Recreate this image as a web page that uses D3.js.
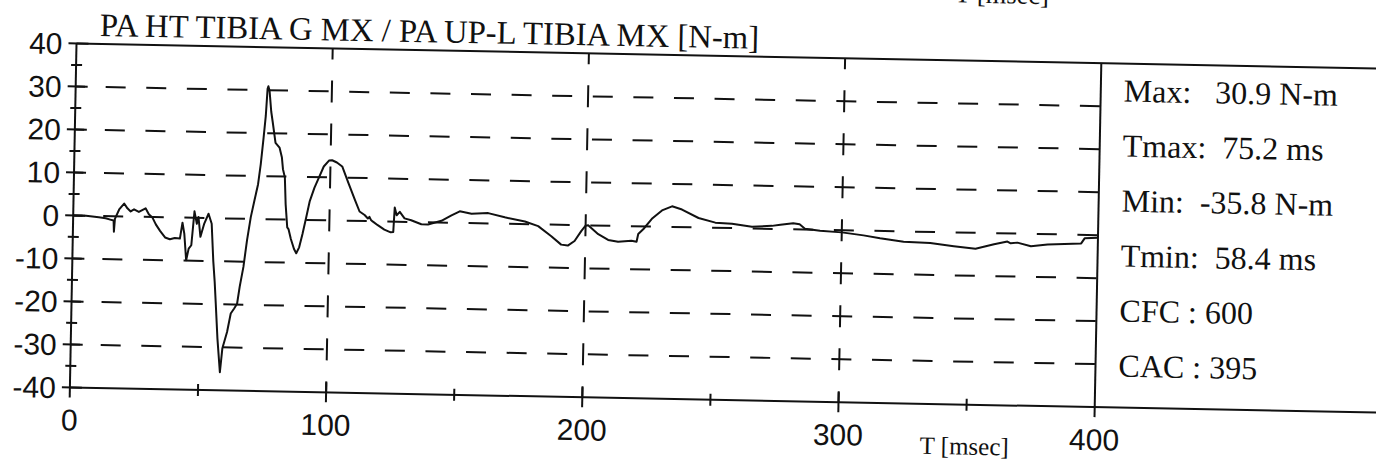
<!DOCTYPE html>
<html>
<head>
<meta charset="utf-8">
<script src="https://cdn.jsdelivr.net/npm/d3@7"></script>
<style>
  html, body { margin: 0; padding: 0; background: #fff; }
  svg { display: block; }
  .serif { font-family: "Liberation Serif", "Times New Roman", serif; }
  .sans { font-family: "Liberation Sans", Arial, Helvetica, sans-serif; }
</style>
</head>
<body>
<svg id="chart" width="1376" height="464"></svg>
<script>
// Tibia moment trace, time in ms and moment in N-m
const timeMs = [
  0, 5, 10, 12.7, 14.5, 15.8, 16.0, 16.3, 17.9, 19.8, 21.1, 22.4, 23.7, 25.6, 28.2, 29.5,
  31.0, 32.3, 34.0, 36.0, 37.9, 39.8, 41.8, 42.7, 43.5, 44.4, 45.3, 46.3, 47.3, 48.3, 48.9,
  49.8, 51.2, 52.8, 54.1, 55.0, 55.7, 56.3, 57.2, 58.4, 59.2, 60.9, 62.2, 63.5, 64.6, 65.5,
  66.8, 68.0, 69.3, 70.6, 71.9, 72.8, 73.7, 74.4, 74.9, 75.2, 75.7, 76.5, 77.1, 78.4, 80.0,
  81.0, 81.5, 82.3, 82.8, 83.6, 84.1, 85.1, 86.4, 87.3, 88.4, 89.6, 90.9, 92.2, 93.9, 95.5,
  97.4, 99.4, 100.6, 102.5, 104.6, 107.2, 109.8, 111.7, 113.7, 115.0, 115.6, 116.2, 117.0,
  118.9, 121.5, 124.0, 125.0, 125.4, 126.2, 127.4, 129.3, 131.9, 135.9, 138.5, 143.7, 147.6,
  150.8, 155.4, 161.9, 168.4, 176.3, 181.5, 186.7, 190.6, 193.2, 195.8, 198.4, 200.0, 201.0,
  205.0, 208.9, 212.8, 218.0, 220.0, 220.6, 222.6, 225.8, 229.7, 233.6, 237.5, 244.0, 250.6,
  257.1, 264.9, 272.7, 276.0, 281.0, 283.5, 285.6, 291.5, 300.0, 308.5, 315.0, 324.2, 334.6,
  343.8, 352.3, 359.5, 364.7, 366.0, 368.6, 373.9, 380.4, 387.0, 393.5, 394.8, 400.0
];
const momentNm = [
  0, 0, -0.3, -0.5, -0.8, -1.0, -3.6, -0.6, 1.6, 3.0, 1.9, 1.2, 1.7, 1.1, 2.0, 0.6,
  -0.2, -1.7, -3.2, -4.7, -5.1, -4.8, -4.9, -1.2, -3.8, -9.9, -7.2, -6.4, 1.5, -1.4, 0.2,
  -4.4, -1.3, 1.0, -1.3, -10.0, -14.8, -20.0, -28.0, -35.8, -30.2, -26.4, -22.1, -20.9, -19.8, -15.8,
  -11.2, -5.0, 0.4, 4.3, 8.1, 12.8, 18.9, 24.0, 30.3, 30.9, 29.8, 25.0, 22.8, 17.8, 16.7,
  14.4, 11.7, 9.8, 3.6, -1.8, -2.2, -4.5, -6.8, -7.8, -6.4, -3.3, 0.5, 4.4, 7.5, 9.8,
  12.5, 13.9, 14.0, 13.5, 12.6, 8.7, 4.9, 2.2, 1.4, 0.6, 1.0, 0.3, -0.1,
  -0.9, -1.9, -2.5, -2.4, 3.3, 1.5, 2.3, 0.8, 0.4, -0.5, -0.5, 0.4, 1.7,
  2.7, 2.2, 2.4, 1.5, 0.6, -0.4, -2.7, -4.6, -4.8, -3.7, -1.3, -0.1, 0,
  -2.0, -3.3, -3.7, -3.4, -3.6, -1.8, -0.6, 1.8, 3.8, 4.8, 4.1, 2.2, 1.2,
  1.0, 0.4, 0.7, 1.0, 1.4, 1.2, 0.2, -0.2, -0.5, -1.1, -1.7, -2.4, -2.6,
  -3.2, -3.7, -2.6, -1.9, -2.3, -2.1, -2.9, -2.4, -2.2, -2.0, -0.8, -0.6
];

const xTicks = [0, 100, 200, 300, 400];
const xMinorTicks = [50, 150, 250, 350];
const yTicks = [40, 30, 20, 10, 0, -10, -20, -30, -40];
const yMinorTicks = [35, 25, 15, 5, -5, -15, -25, -35];
const gridX = [100, 200, 300];
const gridY = [30, 20, 10, 0, -10, -20, -30];

const titleText = "PA HT TIBIA G MX / PA UP-L TIBIA MX [N-m]";
const timeAxisTitle = "T [msec]";
const filterClass = ["CFC : 600", "CAC : 395"];

// Plot frame (scanned sheet sits slightly rotated)
const W = 1025, H = 344;
const ink = "#111";
const NB = "\u00A0";

const svg = d3.select("#chart");
svg.append("rect").attr("width", 1376).attr("height", 464).attr("fill", "#fff");

const g = svg.append("g").attr("transform", "translate(76.5,43.5) rotate(1.1)");

const x = d3.scaleLinear().domain([0, 400]).range([0, W]);
const y = d3.scaleLinear().domain([-40, 40]).range([H, 0]);

// Remnant of the axis title of the sheet above, cut by the page edge
g.append("text").attr("class", "serif")
  .attr("x", 877).attr("y", -58)
  .attr("font-size", 26.5).attr("fill", ink)
  .text(timeAxisTitle);

// Horizontal dashed grid
g.append("g").selectAll("line").data(gridY).join("line")
  .attr("x1", x(0)).attr("x2", x(400))
  .attr("y1", d => y(d)).attr("y2", d => y(d))
  .attr("stroke", ink).attr("stroke-width", 2)
  .attr("stroke-dasharray", "20 20.6").attr("stroke-dashoffset", 10.6);

// Vertical dashed grid, dashes centred on each horizontal level
const yStep = y(30) - y(40);
const vDash = 22;
g.append("g").selectAll("line").data(gridX).join("line")
  .attr("x1", d => x(d)).attr("x2", d => x(d))
  .attr("y1", y(40)).attr("y2", y(-40))
  .attr("stroke", ink).attr("stroke-width", 2)
  .attr("stroke-dasharray", `${vDash} ${yStep - vDash}`)
  .attr("stroke-dashoffset", vDash / 2);

// Frame: top edge and time axis run on past the plot into the info box
const frame = g.append("g").attr("stroke", ink).attr("stroke-width", 2).attr("fill", "none");
frame.append("line").attr("x1", x(0)).attr("x2", x(400) + 420).attr("y1", y(40)).attr("y2", y(40));
frame.append("line").attr("x1", x(0)).attr("x2", x(400) + 420).attr("y1", y(-40)).attr("y2", y(-40));
frame.append("line").attr("x1", x(0)).attr("x2", x(0)).attr("y1", y(40)).attr("y2", y(-40) + 10);
frame.append("line").attr("x1", x(400)).attr("x2", x(400)).attr("y1", y(40)).attr("y2", y(-40) + 10);

// Y ticks
frame.selectAll(".ymaj").data(yTicks).join("line")
  .attr("x1", -8).attr("x2", 12).attr("y1", d => y(d)).attr("y2", d => y(d));
frame.selectAll(".ymin").data(yMinorTicks).join("line")
  .attr("x1", -5).attr("x2", 6).attr("y1", d => y(d)).attr("y2", d => y(d));

// X ticks
frame.selectAll(".xmaj").data(gridX).join("line")
  .attr("x1", d => x(d)).attr("x2", d => x(d)).attr("y1", y(-40) - 10).attr("y2", y(-40) + 10);
frame.selectAll(".xmin").data(xMinorTicks).join("line")
  .attr("x1", d => x(d)).attr("x2", d => x(d)).attr("y1", y(-40) - 6).attr("y2", y(-40) + 6);

// Tick labels
g.append("g").attr("class", "sans").attr("font-size", 30).attr("fill", ink)
  .selectAll("text").data(yTicks).join("text")
  .attr("x", -14).attr("y", d => y(d)).attr("dy", "0.36em")
  .attr("text-anchor", "end").text(d => d);
g.append("g").attr("class", "sans").attr("font-size", 30).attr("fill", ink)
  .selectAll("text").data(xTicks).join("text")
  .attr("x", d => x(d)).attr("y", y(-40) + 43)
  .attr("text-anchor", "middle").text(d => d);

// Titles
g.append("text").attr("class", "serif").attr("x", 23).attr("y", -8)
  .attr("font-size", 32.7).attr("fill", ink).text(titleText);
g.append("text").attr("class", "serif").attr("x", x(332)).attr("y", y(-40) + 50)
  .attr("font-size", 25).attr("fill", ink).text(timeAxisTitle);

// Trace
const pts = timeMs.map((t, i) => [t, momentNm[i]]);
g.append("path").datum(pts)
  .attr("fill", "none").attr("stroke", ink).attr("stroke-width", 2)
  .attr("stroke-linejoin", "round")
  .attr("d", d3.line().x(d => x(d[0])).y(d => y(d[1])));

// Peak statistics derived from the trace
const iMax = d3.maxIndex(momentNm), iMin = d3.minIndex(momentNm);
const pad = n => NB.repeat(n);
const infoLines = [
  `Max:${pad(3)}${momentNm[iMax].toFixed(1)} N-m`,
  `Tmax:${pad(2)}${timeMs[iMax].toFixed(1)} ms`,
  `Min:${pad(2)}${momentNm[iMin].toFixed(1)} N-m`,
  `Tmin:${pad(2)}${timeMs[iMin].toFixed(1)} ms`,
  ...filterClass
];
g.append("g").attr("class", "serif").attr("font-size", 32).attr("fill", ink)
  .selectAll("text").data(infoLines).join("text")
  .attr("x", x(400) + 23).attr("y", (d, i) => 38 + i * 55)
  .text(d => d);
</script>
</body>
</html>
